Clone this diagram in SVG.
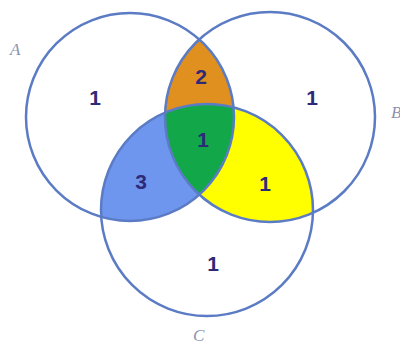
<svg xmlns="http://www.w3.org/2000/svg" width="400" height="356" viewBox="0 0 400 356">
<style>
.ring{fill:none;stroke:#5b7bc4;stroke-width:2.5}
.num{font-family:"Liberation Sans",Arial,sans-serif;font-size:21px;font-weight:bold;fill:#2e2a78;text-anchor:middle}
.lab{font-family:"Liberation Serif",serif;font-style:italic;font-size:17px;fill:#8a94b0}
</style>
<defs>
<clipPath id="clipA"><circle cx="130" cy="117" r="104"/></clipPath>
<clipPath id="clipB"><circle cx="270" cy="117" r="105"/></clipPath>
</defs>
<rect width="400" height="356" fill="#ffffff"/>
<g id="regions">
<circle cx="270" cy="117" r="105" fill="#e0901e" clip-path="url(#clipA)"/>
<circle cx="207" cy="210" r="106" fill="#6e96ee" clip-path="url(#clipA)"/>
<circle cx="207" cy="210" r="106" fill="#ffff00" clip-path="url(#clipB)"/>
<g clip-path="url(#clipB)"><circle cx="207" cy="210" r="106" fill="#12a84a" clip-path="url(#clipA)"/></g>
</g>
<g id="circleA"><circle class="ring" cx="130" cy="117" r="104"/><text class="lab" x="10" y="55">A</text></g>
<g id="circleB"><circle class="ring" cx="270" cy="117" r="105"/><text class="lab" x="391" y="118">B</text></g>
<g id="circleC"><circle class="ring" cx="207" cy="210" r="106"/><text class="lab" x="193" y="341">C</text></g>
<g id="numbers">
<text class="num" x="95" y="105">1</text>
<text class="num" x="201" y="84">2</text>
<text class="num" x="312" y="105">1</text>
<text class="num" x="203" y="147">1</text>
<text class="num" x="141" y="189">3</text>
<text class="num" x="265" y="191">1</text>
<text class="num" x="213" y="271">1</text>
</g>
</svg>
